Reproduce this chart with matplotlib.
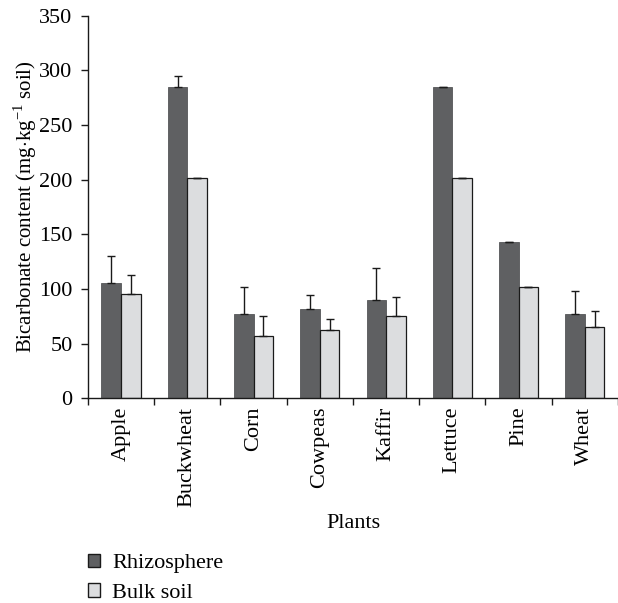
import numpy as np
import matplotlib
matplotlib.use("Agg")
import matplotlib.pyplot as plt
from matplotlib.patches import Patch

plants = ["Apple", "Buckwheat", "Corn", "Cowpeas", "Kaffir", "Lettuce", "Pine", "Wheat"]
rhizosphere = [105.5, 284.7, 77.4, 81.4, 90.2, 284.7, 142.7, 76.8]
rhizosphere_err = [25.0, 9.8, 24.4, 13.4, 28.7, 0.0, 0.0, 21.1]
bulk_soil = [95.1, 201.5, 57.3, 62.2, 75.0, 201.5, 101.8, 64.9]
bulk_soil_err = [17.7, 0.0, 17.7, 10.6, 17.9, 0.0, 0.0, 14.9]

plt.rcParams["font.family"] = ["Liberation Serif", "DejaVu Serif"]
plt.rcParams["mathtext.fontset"] = "custom"
plt.rcParams["mathtext.rm"] = "Liberation Serif"
dark = "#5f6062"
light = "#dcdddf"
ink = "#1a1a1a"

fig = plt.figure(figsize=(6.18, 6.03), dpi=100)
ax_left, ax_right, ax_bot, ax_top = 87.9, 618.0, 398.3, 15.7
ax = fig.add_axes([ax_left/618, 1-ax_bot/603, (ax_right-ax_left)/618, (ax_bot-ax_top)/603])

x = np.arange(len(plants))
w = 0.295
ekw = dict(elinewidth=1.0, capsize=3, capthick=1.0, ecolor=ink)
ax.bar(x - w/2, rhizosphere, w, color=dark, edgecolor="#555658", linewidth=0.6,
       yerr=[np.zeros(len(x)), rhizosphere_err], error_kw=ekw, zorder=2)
ax.bar(x + w/2, bulk_soil, w, color=light, edgecolor=ink, linewidth=0.9,
       yerr=[np.zeros(len(x)), bulk_soil_err], error_kw=ekw, zorder=2)

cat_px = 66.7
ax.set_xlim(-0.5, -0.5 + (ax_right - ax_left)/cat_px)
ax.set_ylim(0, 350)
ax.set_yticks(range(0, 351, 50))
ax.set_xticks(np.arange(len(plants) + 1) - 0.5)
ax.set_xticklabels([])
ax.set_xticks(x, minor=True)
ax.set_xticklabels(plants, minor=True, rotation=90, fontsize=16)
ax.tick_params(axis="x", which="minor", length=0, pad=6)
ax.tick_params(axis="x", which="major", length=5, direction="out", width=1, color=ink)
ax.tick_params(axis="y", labelsize=16, length=5, width=1, direction="out", color=ink, pad=6)
for s in ["top", "right"]:
    ax.spines[s].set_visible(False)
for s in ["left", "bottom"]:
    ax.spines[s].set_linewidth(1.0)
    ax.spines[s].set_color(ink)

ax.set_ylabel("Bicarbonate content (mg$\\cdot$kg$^{-1}$ soil)", fontsize=15, labelpad=0)
ax.set_xlabel("Plants", fontsize=16, labelpad=5)

handles = [Patch(facecolor=dark, edgecolor=ink, label="Rhizosphere"),
           Patch(facecolor=light, edgecolor=ink, label="Bulk soil")]
fig.legend(handles=handles, loc="upper left", bbox_to_anchor=(79/618, 1-545/603),
           frameon=False, fontsize=16, handlelength=0.54, handleheight=0.54,
           handletextpad=0.55, labelspacing=0.45, borderaxespad=0)

fig.savefig("out.png", dpi=100)
